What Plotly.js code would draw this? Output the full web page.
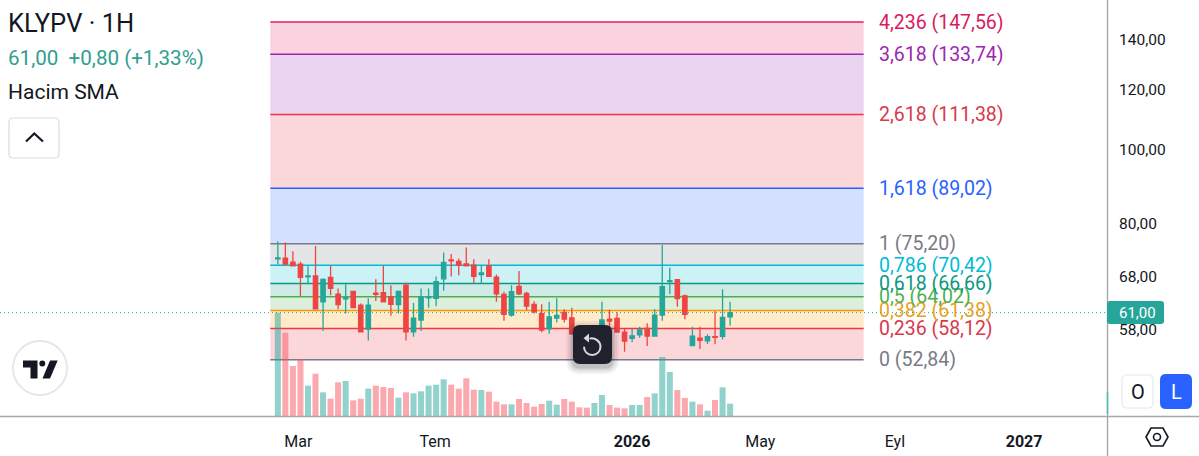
<!DOCTYPE html>
<html><head><meta charset="utf-8">
<script src="https://cdn.plot.ly/plotly-3.0.1.min.js"></script>
<style>html,body{margin:0;padding:0;background:#fff;overflow:hidden}#c{width:1199px;height:456px}</style>
</head><body><div id="c"></div>
<script>
const dates = ["2025-02-03","2025-02-10","2025-02-17","2025-02-24","2025-03-03","2025-03-10","2025-03-17","2025-03-24","2025-03-31","2025-04-07","2025-04-14","2025-04-21","2025-04-28","2025-05-05","2025-05-12","2025-05-19","2025-05-26","2025-06-02","2025-06-09","2025-06-16","2025-06-23","2025-06-30","2025-07-07","2025-07-14","2025-07-21","2025-07-28","2025-08-04","2025-08-11","2025-08-18","2025-08-25","2025-09-01","2025-09-08","2025-09-15","2025-09-22","2025-09-29","2025-10-06","2025-10-13","2025-10-20","2025-10-27","2025-11-03","2025-11-10","2025-11-17","2025-11-24","2025-12-01","2025-12-08","2025-12-15","2025-12-22","2025-12-29","2026-01-05","2026-01-12","2026-01-19","2026-01-26","2026-02-02","2026-02-09","2026-02-16","2026-02-23","2026-03-02","2026-03-09","2026-03-16","2026-03-23","2026-03-30"];
const open = [71.84,72.0,71.1,70.7,68.0,68.2,63.05,67.9,64.5,63.6,65.05,62.4,58.0,64.7,64.8,64.0,62.5,66.3,57.55,59.65,63.8,63.7,67.6,71.6,71.3,70.75,70.45,68.45,70.3,67.95,64.45,60.55,66.05,64.65,62.55,60.8,58.05,60.0,61.05,60.05,57.55,56.7,56.4,57.25,59.8,59.95,57.5,56.4,57.0,58.15,56.8,60.55,67.05,67.45,64.2,55.2,56.45,56.0,56.7,56.75,60.2];
const high = [75.8,75.5,73.5,71.2,70.3,74.7,67.7,70.3,65.65,66.5,65.05,62.7,63.7,67.5,70.3,66.3,65.25,66.8,62.8,65.65,65.65,68.1,73.25,72.9,71.9,74.35,71.75,70.45,71.75,68.5,65.0,66.3,69.25,65.0,63.15,62.55,63.05,63.7,61.65,61.9,57.9,57.25,57.85,63.05,61.55,61.05,58.05,58.05,58.45,59.05,61.65,74.9,69.9,67.45,64.45,58.45,58.45,57.1,61.3,65.5,63.05];
const low = [70.6,70.47,70.2,64.1,66.5,61.7,57.7,64.3,61.65,60.85,61.9,57.5,56.05,63.2,62.9,60.4,60.85,56.05,56.7,57.7,61.9,62.2,65.2,68.1,68.35,70.2,66.65,66.65,67.95,63.05,59.5,60.25,64.35,61.45,60.85,57.45,57.2,59.2,59.2,57.0,54.7,55.0,55.55,56.7,57.65,57.45,54.15,55.75,56.5,55.1,56.7,59.5,64.55,62.1,59.8,55.15,54.6,55.45,55.45,56.2,58.6];
const close = [72.05,70.7,70.3,67.9,68.2,61.7,67.5,65.65,62.5,63.8,61.95,57.55,62.4,64.5,63.05,62.55,65.05,57.55,60.0,64.0,64.0,67.0,71.05,71.4,70.45,70.3,68.1,68.85,68.1,64.6,60.7,65.0,64.6,62.2,61.15,57.85,60.2,60.5,59.8,57.2,55.55,55.55,57.55,59.65,59.45,57.5,55.95,56.85,57.9,56.8,60.55,66.0,67.25,63.65,60.7,56.8,56.05,56.7,56.6,60.1,61.0];
const volume = [310,250,150,170,91,127,71,52,101,105,47,52,82,91,87,84,55,71,68,74,91,94,110,94,82,113,79,78,73,43,35,35,51,39,28,36,46,34,51,43,26,25,39,63,33,25,23,33,33,57,68,177,132,78,54,43,35,16,48,86,37];
const fibRatios = ["0","0,236","0,382","0,5","0,618","0,786","1","1,618","2,618","3,618","4,236"];
const fibPrices = [52.84,58.12,61.38,64.02,66.66,70.42,75.20,89.02,111.38,133.74,147.56];
const fibLabels = ["52,84","58,12","61,38","64,02","66,66","70,42","75,20","89,02","111,38","133,74","147,56"];
const fibColors = ["#787b86","#f23645","#ff9800","#4caf50","#089981","#00bcd4","#787b86","#2962ff","#f23645","#9c27b0","#e91e63"];
const fibLabelColors = ["#787b86","#d9394b","#e8a020","#4caf50","#089981","#00bcd4","#787b86","#2962ff","#d9394b","#9c27b0","#d81b60"];
const priceTicks = [58,68,80,100,120,140];
const priceTickLabels = ["58,00","68,00","80,00","100,00","120,00","140,00"];
const timeTicks = ["2025-02-22","2025-06-29","2025-12-29","2026-04-27","2026-08-30","2026-12-28"];
const timeTickLabels = ["Mar","Tem","<b>2026</b>","May","Eyl","<b>2027</b>"];
const lastPrice = 61.00;

const UP="#26a69a", DOWN="#ef4444", INK="#131722", FONT="Roboto, sans-serif";
const X=x=>+(x/1199).toFixed(5), Y=y=>+(1-y/456).toFixed(5);
const P=(x,y)=>X(x)+","+Y(y);
const rr=(a,b,c,d,r)=>`M${P(a+r,b)} L${P(c-r,b)} Q${P(c,b)} ${P(c,b+r)} L${P(c,d-r)} Q${P(c,d)} ${P(c-r,d)} L${P(a+r,d)} Q${P(a,d)} ${P(a,d-r)} L${P(a,b+r)} Q${P(a,b)} ${P(a+r,b)} Z`;
const chrome=(path,fill,color,width,layer)=>({type:"path",xref:"paper",yref:"paper",path,fillcolor:fill||"rgba(0,0,0,0)",line:{color:color||"rgba(0,0,0,0)",width:width||0},layer:layer||"above"});
const seg=(x0,y0,x1,y1,color,w)=>({type:"line",xref:"paper",yref:"paper",x0:X(x0),y0:Y(y0),x1:X(x1),y1:Y(y1),line:{color,width:w},layer:"above"});

const FIB_X0="2025-01-27", FIB_X1="2026-08-01";
const shapes=[];
for(let i=0;i<fibPrices.length-1;i++){
  shapes.push({type:"rect",xref:"x",yref:"y",x0:FIB_X0,x1:FIB_X1,y0:fibPrices[i],y1:fibPrices[i+1],
    fillcolor:fibColors[i+1],opacity:0.2,line:{width:0},layer:"below"});
}
fibPrices.forEach((p,i)=>shapes.push({type:"line",xref:"x",yref:"y",x0:FIB_X0,x1:FIB_X1,y0:p,y1:p,line:{color:fibColors[i],width:1.5},layer:"below"}));
shapes.push({type:"line",xref:"paper",yref:"y",x0:0,x1:X(1107),y0:lastPrice,y1:lastPrice,line:{color:UP,width:1,dash:"1px,3px"},layer:"above"});
// frame
shapes.push(seg(0,416.5,1199,416.5,"#a8a8a8",1.4));
shapes.push(seg(1107.5,0,1107.5,456,"#a8a8a8",1.4));
shapes.push(seg(1107.5,392,1107.5,414,"#53bfae",1.6));
// price tag
shapes.push(chrome(rr(1107,301,1164,324,3),"#26a69a"));
// legend collapse button
shapes.push(chrome(rr(9,118,59,158,4),"#ffffff","#dcdde0",1.2));
shapes.push(chrome(`M${P(26,141.5)} L${P(34.3,133.5)} L${P(43,141.5)}`,null,INK,2.2));
// logo
shapes.push({type:"circle",xref:"paper",yref:"paper",x0:X(13),x1:X(67),y0:Y(395),y1:Y(341),fillcolor:"#fff",line:{color:"#e4e6ea",width:2},layer:"above"});
shapes.push(chrome(`M${P(23,360.5)} L${P(37.5,360.5)} L${P(37.5,378.5)} L${P(30.5,378.5)} L${P(30.5,367.5)} L${P(23,367.5)} Z`,INK));
shapes.push({type:"circle",xref:"paper",yref:"paper",x0:X(39.3),x1:X(45.3),y0:Y(366.6),y1:Y(360.6),fillcolor:INK,line:{width:0},layer:"above"});
shapes.push(chrome(`M${P(50,360.5)} L${P(57.7,360.5)} L${P(50,378.5)} L${P(42.5,378.5)} Z`,INK));
// reset button
[[7,.05],[5,.06],[3,.08],[1.5,.1]].forEach(([g,a])=>shapes.push(chrome(rr(573-g,325-g+3,612+g,364+g+3,7+g),`rgba(19,23,34,${a})`)));
shapes.push(chrome(rr(573,325,612,364,7),"#1f222c"));
shapes.push(chrome(`M${P(589.5,338.6)} C${P(595,337)} ${P(600.5,341.5)} ${P(600.5,346.7)} C${P(600.5,351.5)} ${P(596.7,355)} ${P(592.2,355)} C${P(587.5,355)} ${P(584,351.5)} ${P(584,346.7)}`,null,"#d6d8de",2));
shapes.push(chrome(`M${P(589,333.5)} L${P(589,342.5)} L${P(583.5,338.3)} Z`,"#d6d8de"));
// O / L
shapes.push(chrome(rr(1122,375,1153,408,5),"#ffffff","#e6e8ec",1.2));
shapes.push(chrome(rr(1160,374,1192,409,6),"#2962ff"));
// settings hexagon
shapes.push(chrome(`M${P(1146,437)} L${P(1151,428)} L${P(1163,428)} L${P(1168,437)} L${P(1163,446)} L${P(1151,446)} Z`,null,INK,1.6));
shapes.push({type:"circle",xref:"paper",yref:"paper",x0:X(1153.5),x1:X(1160.5),y0:Y(440.5),y1:Y(433.5),fillcolor:"rgba(0,0,0,0)",line:{color:INK,width:1.6},layer:"above"});

const text=(x,y,t,size,color,extra)=>Object.assign({xref:"paper",yref:"paper",x:X(x),y:Y(y),text:t,showarrow:false,xanchor:"left",yanchor:"middle",font:{family:FONT,size,color},borderpad:0},extra||{});
const annotations=[
  text(7,23,"KLYPV · 1H",25.5,INK),
  text(7,58,"61,00&nbsp;&nbsp;+0,80 (+1,33%)",20.6,"#2f9e8f"),
  text(7,92.5,"Hacim SMA",21,INK),
  text(1118,313,"61,00",15,"#ffffff"),
  text(1137.5,392,"O",20,INK,{xanchor:"center"}),
  text(1176,392,"L",20,"#ffffff",{xanchor:"center"})
];
fibPrices.forEach((p,i)=>annotations.push({xref:"paper",yref:"y",x:X(876.5),y:Math.log10(p),text:`${fibRatios[i]} (${fibLabels[i]})`,showarrow:false,xanchor:"left",yanchor:"middle",font:{family:FONT,size:19.5,color:fibLabelColors[i]}}));

const volColors=close.map((c,i)=>c>=open[i]?"rgba(38,166,154,0.5)":"rgba(247,82,95,0.5)");
const traces=[
 {type:"bar",x:dates,y:volume,xaxis:"x",yaxis:"y2",marker:{color:volColors,line:{width:0}},hoverinfo:"skip"},
 {type:"candlestick",x:dates,open,high,low,close,xaxis:"x",yaxis:"y",whiskerwidth:0,
  increasing:{line:{color:UP,width:1.3},fillcolor:UP},decreasing:{line:{color:DOWN,width:1.3},fillcolor:DOWN}}
];
const layout={
 width:1199,height:456,margin:{l:0,r:0,t:0,b:0},paper_bgcolor:"#fff",plot_bgcolor:"#fff",showlegend:false,bargap:0.2,boxgap:0.18,
 xaxis:{type:"date",domain:[0,X(1107)],range:["2024-05-21","2027-03-15"],anchor:"y",rangeslider:{visible:false},showgrid:false,zeroline:false,showline:false,
   tickmode:"array",tickvals:timeTicks,ticktext:timeTickLabels,ticks:"outside",ticklen:11,tickcolor:"rgba(0,0,0,0)",tickfont:{family:FONT,size:16,color:INK},tickangle:0},
 yaxis:{type:"log",domain:[40/456,1],range:[1.64886,2.19801],side:"right",anchor:"x",showgrid:false,zeroline:false,showline:false,
   tickmode:"array",tickvals:priceTicks,ticktext:priceTickLabels,ticks:"outside",ticklen:8,tickcolor:"rgba(0,0,0,0)",tickfont:{family:FONT,size:15.5,color:INK}},
 yaxis2:{domain:[40/456,1],range:[0,1248],overlaying:"y",side:"left",visible:false,fixedrange:true},
 shapes,annotations
};
Plotly.newPlot("c",traces,layout,{displayModeBar:false,staticPlot:true});
</script></body></html>
